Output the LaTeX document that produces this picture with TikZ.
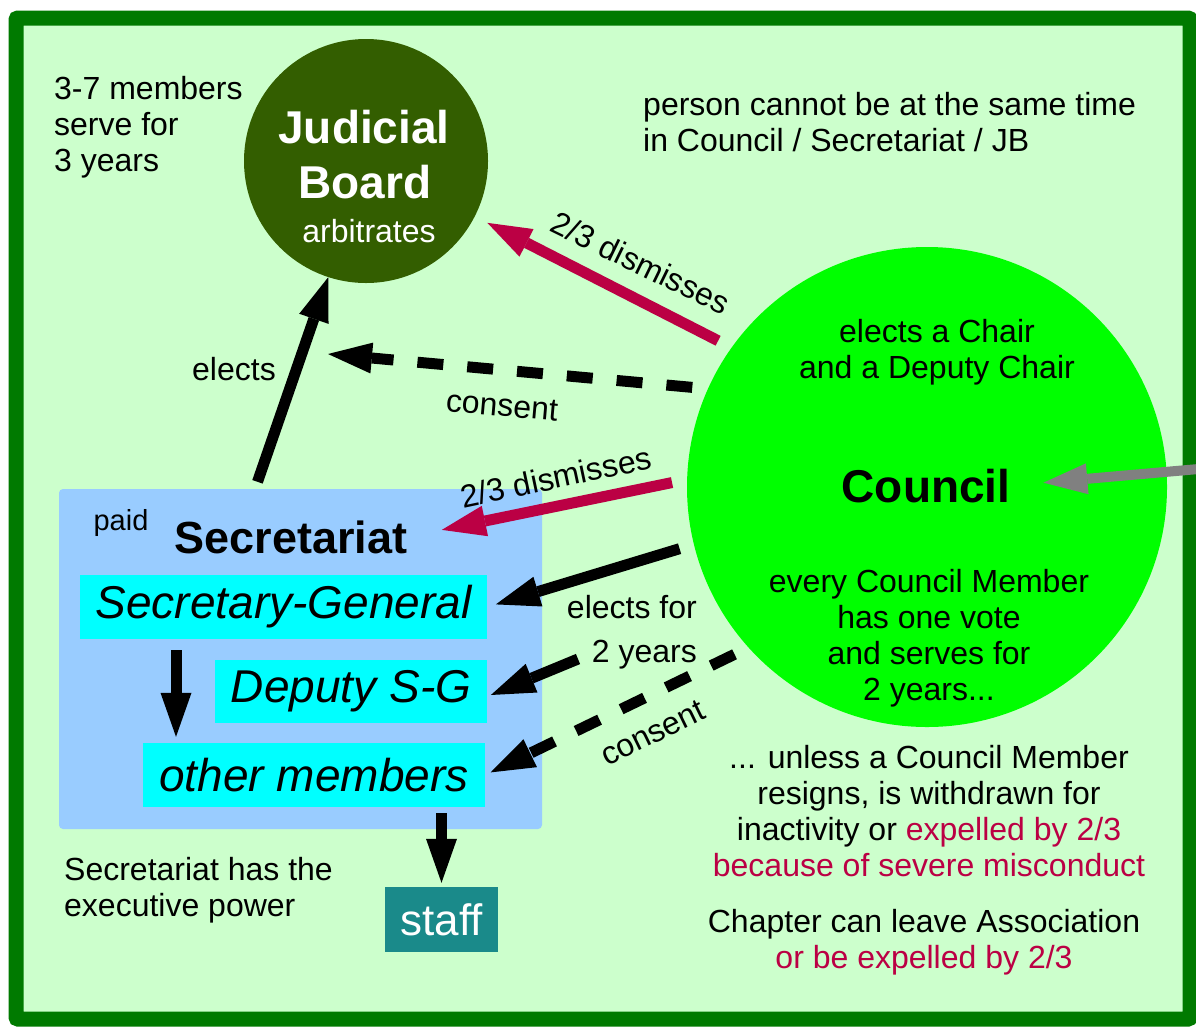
\documentclass[tikz,border=0pt]{standalone}
\usepackage{fontspec}
\setmainfont{Liberation Sans}
\usetikzlibrary{arrows.meta,positioning}

\definecolor{framegreen}{RGB}{0,122,0}
\definecolor{paper}{RGB}{204,255,204}
\definecolor{jbgreen}{RGB}{51,94,0}
\definecolor{councilgreen}{RGB}{0,255,0}
\definecolor{secblue}{RGB}{153,204,255}
\definecolor{rolecyan}{RGB}{0,255,255}
\definecolor{staffteal}{RGB}{26,138,138}
\definecolor{dismissred}{RGB}{187,0,68}

\begin{document}
\begin{tikzpicture}[x=1pt,y=-1pt,
    txt/.style={font=\fontsize{32}{36}\selectfont, inner sep=0pt},
    bigtxt/.style={font=\fontsize{46}{52}\selectfont\bfseries, inner sep=0pt},
    role/.style={fill=rolecyan, inner sep=0pt, font=\fontsize{46}{52}\selectfont\itshape},
    fatarrow/.style={line width=11pt, -{Triangle[length=44pt,width=31pt,line width=0pt]}},
    dasharrow/.style={fatarrow, dash pattern=on 26pt off 24pt}]
    \useasboundingbox (0,0) rectangle (1196,1026);
    \fill[white] (0,0) rectangle (1196,1026);
    \draw[framegreen, line width=15pt, fill=paper, rounded corners=2pt] (16,18) rectangle (1190,1019);

    % bodies
    \node[circle, fill=jbgreen, minimum size=244pt, inner sep=0pt] (jb) at (366,161) {};
    \node[circle, fill=councilgreen, minimum size=480pt, inner sep=0pt, outer sep=15pt] (council) at (927,487) {};
    \node[fill=secblue, rounded corners=4pt, minimum width=483pt, minimum height=340pt, inner sep=0pt] (secr) at (300.5,659) {};
    \node[role, minimum width=407pt, minimum height=64pt] (sg) at (283.5,607) {Secretary-General};
    \node[role, minimum width=272pt, minimum height=63pt] (deputy) at (351,691.5) {Deputy S-G};
    \node[role, minimum width=342pt, minimum height=64pt] (others) at (314,775) {other members};
    \node[fill=staffteal, text=white, minimum width=113pt, minimum height=65pt, inner sep=0pt, font=\fontsize{44}{50}\selectfont] (staff) at (441.5,919.5) {staff};

    % texts
    \node[bigtxt, text=white, anchor=base] (jbname1) at (364,143) {Judicial};
    \node[bigtxt, text=white, anchor=base] (jbname2) at (365,198) {Board};
    \node[txt, text=white, anchor=base] (jbtask) at (369,242) {arbitrates};
    \node[bigtxt, anchor=base] (counciltitle) at (926,502) {Council};
    \node[bigtxt, font=\fontsize{45}{50}\selectfont\bfseries, anchor=base] (sectitle) at (291,553) {Secretariat};
    \node[txt, font=\fontsize{29}{34}\selectfont, anchor=base] (paid) at (121,530) {paid};
    \node[txt, align=left, anchor=west] (jbterm) at (54,127) {3-7 members\\serve for\\3 years};
    \node[txt, align=left, anchor=west] (incompat) at (643,122) {person cannot be at the same time\\in Council / Secretariat / JB};
    \node[txt, align=center] (chair) at (937,352) {elects a Chair\\and a Deputy Chair};
    \node[txt, align=center] (votes) at (929,638) {every Council Member\\has one vote\\and serves for\\2 years...};
    \node[txt, align=center] (unless) at (929,811) {... unless a Council Member\\resigns, is withdrawn for\\inactivity or \textcolor{dismissred}{expelled by 2/3}\\\textcolor{dismissred}{because of severe misconduct}};
    \node[txt, align=center] (chapter) at (924,942) {Chapter can leave Association\\\textcolor{dismissred}{or be expelled by 2/3}};
    \node[txt, align=left, anchor=west] (execpower) at (64,890) {Secretariat has the\\executive power};

    % connectors
    \draw[fatarrow] ([xshift=-43pt,yshift=7pt]secr.north) -- (jb.252);
    \node[txt, anchor=base] (electslbl) at (234,380) {elects};
    \draw[fatarrow, dismissred, shorten >=14pt] (council.145.5) -- (jb.-27.5);
    \node[txt, rotate=-26] (dismiss1) at (641,263) {2/3 dismisses};
    \coordinate (jbconsent) at (328,354);
    \draw[dasharrow] (council.157.6) -- (jbconsent);
    \node[txt, rotate=-5] (consent1) at (502,406) {consent};
    \draw[fatarrow, dismissred, shorten >=35pt] (council.179) -- (sectitle.east);
    \node[txt, rotate=12] (dismiss2) at (556,477) {2/3 dismisses};
    \draw[fatarrow, shorten >=9pt] (council.194) -- (sg.east);
    \coordinate (depstart) at (578,659);
    \draw[fatarrow, shorten >=4pt] (depstart) -- ([yshift=-5pt]deputy.east);
    \node[txt, align=right, anchor=east] (electsfor) at (697,632) {elects for\\[8pt]2 years};
    \draw[dasharrow, shorten >=6pt] (council.221) -- (others.east);
    \node[txt, rotate=26] (consent2) at (653,733) {consent};
    \coordinate (outside) at (1210,468);
    \draw[fatarrow, line width=10pt, gray, shorten >=33pt] (outside) -- (counciltitle.east);
    \coordinate (sgdown) at ([xshift=-107.5pt]sg.south);
    \draw[fatarrow, shorten <=11pt, shorten >=6pt] (sgdown) -- (sgdown |- others.north);
    \draw[fatarrow, shorten <=6pt, shorten >=4pt] (staff.north |- others.south) -- (staff.north);
\end{tikzpicture}
\end{document}
